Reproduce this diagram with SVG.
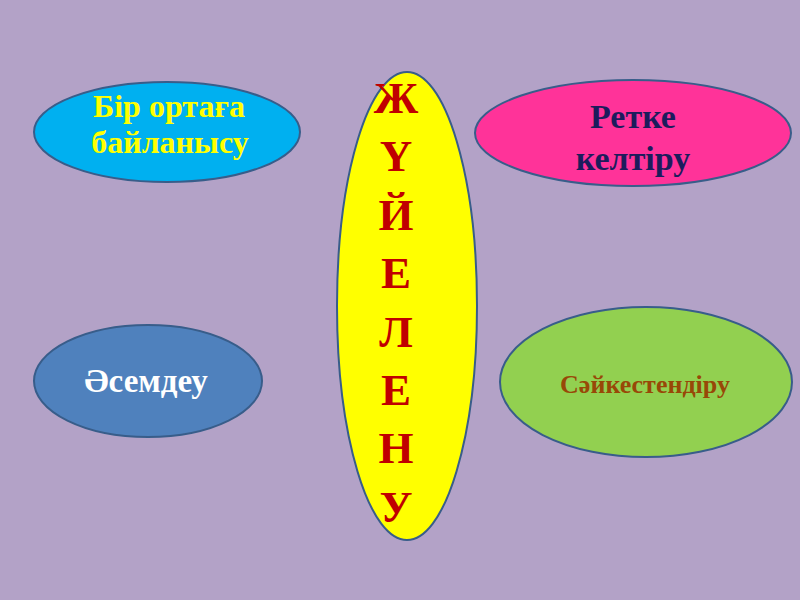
<svg xmlns="http://www.w3.org/2000/svg" width="800" height="600" viewBox="0 0 800 600">
<style>
.shape{stroke:#385d8a;stroke-width:2}
text{font-family:"Liberation Serif","Times New Roman",serif;font-weight:bold;text-anchor:middle}
.v{font-size:45px;fill:#c00000}
</style>
<rect width="800" height="600" fill="#b3a2c7"/>
<g id="node-bir">
<ellipse class="shape" cx="167" cy="132" rx="133" ry="50" fill="#00b0f0"/>
<text x="169" y="117" font-size="32" fill="#ffff00">Бір ортаға</text>
<text x="170" y="153" font-size="32" fill="#ffff00">байланысу</text>
</g>
<g id="node-retke">
<ellipse class="shape" cx="633" cy="133" rx="158" ry="53" fill="#ff3399"/>
<text x="633" y="128" font-size="34" fill="#1c1c5c">Ретке</text>
<text x="633" y="170" font-size="34" fill="#1c1c5c">келтіру</text>
</g>
<g id="node-asemdeu">
<ellipse class="shape" cx="148" cy="381" rx="114" ry="56" fill="#4f81bd"/>
<text x="146" y="392" font-size="33" fill="#ffffff">Әсемдеу</text>
</g>
<g id="node-saikes">
<ellipse class="shape" cx="646" cy="382" rx="146" ry="75" fill="#92d050"/>
<text x="645" y="393" font-size="26" fill="#984807">Сәйкестендіру</text>
</g>
<g id="node-zhuyeleu">
<ellipse class="shape" cx="407" cy="306" rx="70" ry="234" fill="#ffff00"/>
<text class="v" x="396" y="113">Ж</text>
<text class="v" x="396" y="171.4">Ү</text>
<text class="v" x="396" y="229.8">Й</text>
<text class="v" x="396" y="288.2">Е</text>
<text class="v" x="396" y="346.6">Л</text>
<text class="v" x="396" y="405">Е</text>
<text class="v" x="396" y="463.4">Н</text>
<text class="v" x="396" y="521.8">У</text>
</g>
<g id="connectors"></g>
</svg>
